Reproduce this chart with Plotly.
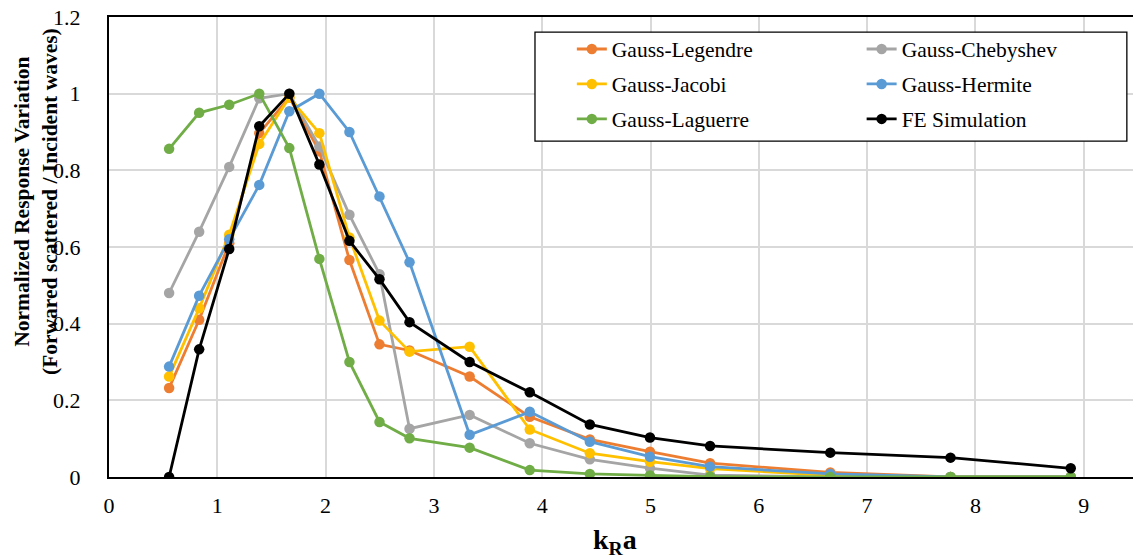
import plotly.graph_objects as go

kra = [0.555, 0.8325, 1.11, 1.3875, 1.665, 1.9425, 2.22, 2.4975, 2.775,
       3.33, 3.885, 4.44, 4.995, 5.55, 6.66, 7.77, 8.88]

gauss_legendre = [0.232, 0.41, 0.61, 0.897, 0.99, 0.85, 0.566, 0.346, 0.33,
                  0.262, 0.157, 0.098, 0.066, 0.036, 0.012, 0.0, 0.0]
gauss_chebyshev = [0.48, 0.64, 0.809, 0.988, 1.0, 0.862, 0.684, 0.529, 0.126,
                   0.162, 0.088, 0.046, 0.023, 0.005, 0.0, 0.0, 0.0]
gauss_jacobi = [0.262, 0.44, 0.632, 0.869, 0.99, 0.897, 0.625, 0.408, 0.327,
                0.34, 0.124, 0.062, 0.04, 0.022, 0.004, 0.0, 0.0]
gauss_hermite = [0.288, 0.473, 0.62, 0.762, 0.954, 1.0, 0.9, 0.732, 0.56,
                 0.11, 0.17, 0.092, 0.053, 0.027, 0.008, 0.0, 0.0]
gauss_laguerre = [0.856, 0.95, 0.971, 1.0, 0.858, 0.569, 0.30, 0.1436, 0.101,
                  0.0766, 0.018, 0.008, 0.004, 0.001, 0.0, 0.0, 0.0]
fe_simulation = [0.0, 0.333, 0.595, 0.915, 1.0, 0.815, 0.616, 0.516, 0.404,
                 0.30, 0.221, 0.137, 0.103, 0.081, 0.0635, 0.0505, 0.0227]

series = [
    ("Gauss-Legendre", gauss_legendre, "#ED7D31", "legend"),
    ("Gauss-Chebyshev", gauss_chebyshev, "#A5A5A5", "legend2"),
    ("Gauss-Jacobi", gauss_jacobi, "#FFC000", "legend"),
    ("Gauss-Hermite", gauss_hermite, "#5B9BD5", "legend2"),
    ("Gauss-Laguerre", gauss_laguerre, "#70AD47", "legend"),
    ("FE Simulation", fe_simulation, "#000000", "legend2"),
]

FONT = "Liberation Serif, Times New Roman, serif"

fig = go.Figure()
for name, vals, color, lg in series:
    fig.add_trace(go.Scatter(
        x=kra, y=vals, name=name, mode="lines+markers",
        line=dict(color=color, width=2.8),
        marker=dict(color=color, size=10.5),
        legend=lg, legendgroup=name,
    ))

legend_common = dict(
    font=dict(family=FONT, size=21.5, color="black"),
    bgcolor="rgba(0,0,0,0)", borderwidth=0,
    orientation="v", xanchor="left", yanchor="top",
    tracegroupgap=4, itemwidth=30,
)

fig.update_layout(
    width=1133, height=559,
    margin=dict(l=109, r=0, t=17, b=82),
    plot_bgcolor="white", paper_bgcolor="white",
    font=dict(family=FONT, color="black"),
    showlegend=True,
    legend=dict(x=0.452, y=0.975, **legend_common),
    legend2=dict(x=0.735, y=0.975, **legend_common),
    xaxis=dict(
        range=[0, 9.455], tickmode="linear", tick0=0, dtick=1,
        showgrid=True, gridcolor="#D9D9D9", gridwidth=1.5,
        showline=True, linecolor="black", linewidth=2, mirror=True,
        zeroline=False, ticks="",
        tickfont=dict(family=FONT, size=22, color="black"),
        ticklabelstandoff=8,
    ),
    yaxis=dict(
        range=[0, 1.2], tickmode="array",
        tickvals=[0, 0.2, 0.4, 0.6, 0.8, 1.0, 1.2],
        ticktext=["0", "0.2", "0.4", "0.6", "0.8", "1", "1.2"],
        showgrid=True, gridcolor="#D9D9D9", gridwidth=1.5,
        showline=True, linecolor="black", linewidth=2,
        zeroline=False, ticks="",
        tickfont=dict(family=FONT, size=22, color="black"),
        ticklabelstandoff=22,
    ),
    shapes=[dict(
        type="rect", xref="paper", yref="paper",
        x0=0.416, x1=0.994, y0=0.730, y1=0.967,
        line=dict(color="black", width=1.3), fillcolor="white", layer="above",
    )],
    annotations=[
        dict(text="<b>Normalized Response Variation<br>(Forwared scattered / Incident waves)</b>",
             xref="paper", yref="paper", x=-0.0713, y=0.60,
             xanchor="center", yanchor="middle", textangle=-90, showarrow=False,
             font=dict(family=FONT, size=21.5, color="black")),
        dict(text="<b>k<sub>R</sub>a</b>",
             xref="paper", yref="paper", x=0.494, y=-0.141,
             xanchor="center", yanchor="middle", showarrow=False,
             font=dict(family=FONT, size=28, color="black")),
    ],
)

fig.write_html("out.html")
